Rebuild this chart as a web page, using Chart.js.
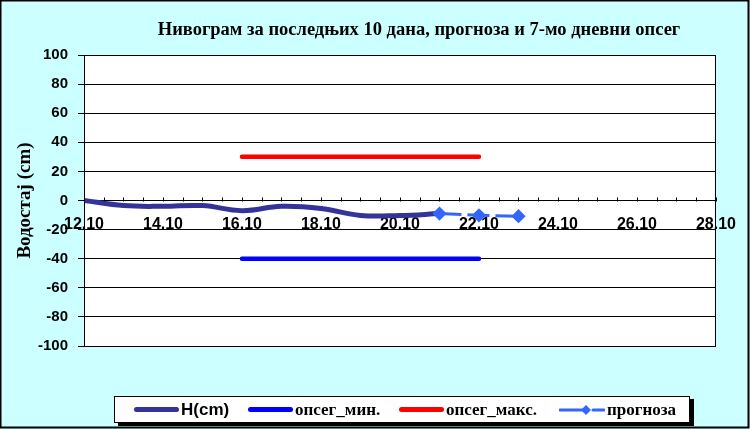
<!DOCTYPE html>
<html>
<head>
<meta charset="utf-8">
<script src="https://cdn.jsdelivr.net/npm/chart.js@4.4.1/dist/chart.umd.min.js"></script>
<style>
    html, body { margin: 0; padding: 0; background: #fff; }
    #wrap { position: relative; width: 750px; height: 429px; overflow: hidden; }
    #chart { position: absolute; left: 0; top: 0; }
    #title {
        position: absolute; left: 0; width: 838px; top: 19px; text-align: center;
        font: bold 18.5px "Liberation Serif", "Times New Roman", serif; color: #000; white-space: nowrap;
    }
    #legend {
        position: absolute; left: 114px; top: 396px; width: 574px; height: 25px;
        background: #fff; border: 1px solid #000; box-shadow: 4px 3px 0 #000;
    }
    .item { position: absolute; top: 0; height: 25px; display: flex; align-items: center; }
    .ln { display: inline-block; width: 45px; height: 5px; border-radius: 3px; margin-right: 2px; }
    .arial { font: bold 17px "Liberation Sans", Arial, sans-serif; }
    .times { font: bold 17px "Liberation Serif", "Times New Roman", serif; }
</style>
</head>
<body>
<div id="wrap">
    <canvas id="chart" width="750" height="429"></canvas>
    <div id="title">Нивограм за последњих 10 дана, прогноза и 7-мо дневни опсег</div>
    <div id="legend">
        <div class="item" style="left:19px"><span class="ln" style="background:#333399"></span><span class="arial">H(cm)</span></div>
        <div class="item" style="left:133px"><span class="ln" style="background:#0000FF"></span><span class="times">опсег_мин.</span></div>
        <div class="item" style="left:284px"><span class="ln" style="background:#FF0000"></span><span class="times">опсег_макс.</span></div>
        <div class="item" style="left:444px">
            <svg width="46" height="12" style="margin-right:2px">
                <line x1="1" y1="6" x2="24" y2="6" stroke="#3366FF" stroke-width="3" stroke-linecap="round"/>
                <polygon points="27,1 32,6 27,11 22,6" fill="#3366FF"/>
                <line x1="34" y1="6" x2="45" y2="6" stroke="#3366FF" stroke-width="3" stroke-linecap="round"/>
            </svg><span class="times">прогноза</span>
        </div>
    </div>
</div>
<script>
// Data (day of October)
const days = [12, 13, 14, 15, 16, 17, 18, 19, 20, 21];
const level = [0, -3.5, -4, -3.5, -7, -4, -5.5, -10.3, -10.3, -9];
const forecastDays = [21, 22, 23];
const forecast = [-9, -10.2, -10.8];
const rangeDays = [16, 17, 18, 19, 20, 21, 22];
const rangeMin = [-40, -40, -40, -40, -40, -40, -40];
const rangeMax = [30, 30, 30, 30, 30, 30, 30];
const xMin = 12, xMax = 28;
const yMin = -100, yMax = 100, yStep = 20;

const pts = (xs, ys) => xs.map((x, i) => ({ x: x, y: ys[i] }));

// background, frame, plot border and small upward ticks on the 0 line
const framePlugin = {
    id: 'frame',
    beforeDraw(chart) {
        const { ctx, width, height, chartArea: a } = chart;
        ctx.save();
        ctx.fillStyle = '#CCFFFF';
        ctx.fillRect(0, 0, width, height);
        ctx.fillStyle = '#fff';
        ctx.fillRect(a.left, a.top, a.right - a.left, a.bottom - a.top);
        ctx.restore();
    },
    afterDraw(chart) {
        const { ctx, width, height, chartArea: a } = chart;
        const xs = chart.scales.x, ys = chart.scales.y;
        ctx.save();
        ctx.strokeStyle = '#000';
        ctx.lineWidth = 1;
        ctx.strokeRect(a.left + 0.5, a.top + 0.5, a.right - a.left - 1, a.bottom - a.top);
        const y0 = Math.round(ys.getPixelForValue(0)) + 0.5;
        ctx.beginPath();
        xs.ticks.forEach(t => {
            const px = Math.round(xs.getPixelForValue(t.value)) + 0.5;
            ctx.moveTo(px, y0);
            ctx.lineTo(px, y0 - 4);
        });
        ctx.stroke();
        ctx.lineWidth = 2;
        ctx.strokeRect(0.5, 0.5, width - 2, height - 2);
        ctx.restore();
    }
};

new Chart(document.getElementById('chart').getContext('2d'), {
    type: 'line',
    data: {
        datasets: [
            {
                label: 'опсег_мин.',
                data: pts(rangeDays, rangeMin),
                borderColor: '#0000FF',
                borderWidth: 4.5,
                borderCapStyle: 'round',
                pointRadius: 0
            },
            {
                label: 'опсег_макс.',
                data: pts(rangeDays, rangeMax),
                borderColor: '#FF0000',
                borderWidth: 4.5,
                borderCapStyle: 'round',
                pointRadius: 0
            },
            {
                label: 'прогноза',
                data: pts(forecastDays, forecast),
                borderColor: '#3366FF',
                backgroundColor: '#3366FF',
                borderWidth: 3,
                borderDash: [22, 6],
                pointStyle: 'rectRot',
                pointRadius: 5,
                tension: 0
            },
            {
                label: 'H(cm)',
                data: pts(days, level),
                borderColor: '#333399',
                borderWidth: 5,
                borderCapStyle: 'round',
                pointRadius: 0,
                tension: 0.4
            }
        ]
    },
    options: {
        responsive: false,
        animation: false,
        layout: { padding: { top: 55, right: 33, bottom: 83, left: 0 } },
        plugins: {
            legend: { display: false },
            title: { display: false },
            tooltip: { enabled: false }
        },
        scales: {
            x: {
                type: 'linear',
                position: { y: 0 },
                min: xMin,
                max: xMax,
                grid: { display: false, drawTicks: false },
                border: { display: false },
                ticks: {
                    stepSize: 0.5,
                    autoSkip: false,
                    maxRotation: 0,
                    padding: 14,
                    color: '#000',
                    font: { family: '"Liberation Sans", Arial, sans-serif', size: 16, weight: 'bold' },
                    callback: v => (v % 2 === 0 ? v + '.10' : '')
                }
            },
            y: {
                min: yMin,
                max: yMax,
                afterFit: s => { s.width = 84; },
                grid: { color: '#000', lineWidth: 1, tickLength: 6 },
                border: { display: false },
                ticks: {
                    stepSize: yStep,
                    padding: 10,
                    color: '#000',
                    font: { family: '"Liberation Sans", Arial, sans-serif', size: 15, weight: 'bold' }
                },
                title: {
                    display: true,
                    text: 'Водостај (cm)',
                    color: '#000',
                    padding: { top: 14 },
                    font: { family: '"Liberation Serif", "Times New Roman", serif', size: 19, weight: 'bold' }
                }
            }
        }
    },
    plugins: [framePlugin]
});
</script>
</body>
</html>
